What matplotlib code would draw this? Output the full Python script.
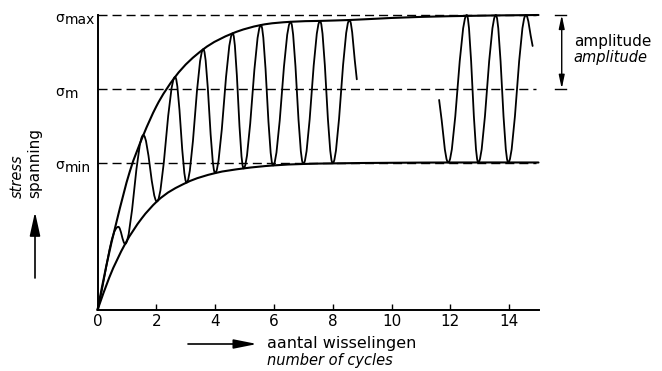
import numpy as np
import matplotlib
matplotlib.use("Agg")
import matplotlib.pyplot as plt
from matplotlib.path import Path
from matplotlib.patches import PathPatch

plt.rcParams["font.family"] = ["DejaVu Sans"]

# ---- values -------------------------------------------------------------
cycle_ticks = [0, 2, 4, 6, 8, 10, 12, 14]

sigma_min = 0.5
sigma_m = 0.75
sigma_max = 1.0

# upper envelope (peak stress build-up)
upper_x = [0.0, 0.30, 0.65, 1.10, 1.56, 2.00, 2.64, 3.60, 4.60, 5.56, 6.57, 7.57, 8.57, 10.0, 12.0, 15.0]
upper_y = [0.0, 0.150, 0.300, 0.470, 0.593, 0.690, 0.790, 0.884, 0.938, 0.966, 0.977, 0.980, 0.983, 0.990, 0.996, 1.000]

# lower envelope (minimum stress build-up)
lower_x = [0.0, 0.40, 0.94, 1.50, 2.02, 3.03, 4.00, 4.97, 5.97, 7.00, 8.00, 10.0, 12.0, 15.0]
lower_y = [0.0, 0.110, 0.224, 0.310, 0.368, 0.432, 0.464, 0.480, 0.490, 0.495, 0.497, 0.499, 0.500, 0.500]

# stress history, first part: start, alternating peaks / troughs, end
early_x = [0.0, 0.71, 0.94, 1.56, 2.02, 2.64, 3.03, 3.60, 4.00, 4.60, 4.97,
           5.56, 5.97, 6.57, 7.00, 7.57, 8.00, 8.57, 8.82]
early_y = [0.0, 0.282, 0.224, 0.593, 0.368, 0.790, 0.432, 0.884, 0.464, 0.938, 0.480,
           0.966, 0.490, 0.977, 0.495, 0.980, 0.497, 0.983, 0.782]

# stress history, steady state part
late_x = [11.62, 11.93, 12.56, 12.95, 13.55, 13.97, 14.57, 14.80]
late_y = [0.712, 0.500, 1.000, 0.500, 1.000, 0.500, 1.000, 0.895]

# ---- figure ---------------------------------------------------------------
W, H = 662, 371
fig = plt.figure(figsize=(W / 100, H / 100), dpi=100)
x0_px, y0_px, xunit_px, yunit_px = 97.5, 310.0, 29.4, 295.0
ax = fig.add_axes([x0_px / W, (H - y0_px) / H, 15 * xunit_px / W, yunit_px / H])
ax.set_xlim(0, 15)
ax.set_ylim(0, 1)
ax.patch.set_visible(False)

for side in ("top", "right"):
    ax.spines[side].set_visible(False)
ax.spines["left"].set_linewidth(1.4)
ax.spines["bottom"].set_linewidth(1.4)
ax.spines["left"].set_bounds(0, sigma_max)
ax.set_yticks([])
ax.set_xticks(cycle_ticks)
ax.set_xticklabels([str(t) for t in cycle_ticks])
ax.tick_params(axis="x", direction="in", length=4, width=1.0, pad=3, labelsize=11)


def smooth_path(xs, ys):
    """Cubic Hermite curve through the points (three-point slopes), as Bezier segments."""
    x = np.asarray(xs, float)
    y = np.asarray(ys, float)
    h = np.diff(x)
    d = np.diff(y) / h
    m = np.empty_like(x)
    m[0], m[-1] = d[0], d[-1]
    m[1:-1] = (h[:-1] * d[1:] + h[1:] * d[:-1]) / (h[:-1] + h[1:])
    verts = [(x[0], y[0])]
    codes = [Path.MOVETO]
    for i in range(len(x) - 1):
        t = h[i] / 3.0
        verts += [(x[i] + t, y[i] + m[i] * t),
                  (x[i + 1] - t, y[i + 1] - m[i + 1] * t),
                  (x[i + 1], y[i + 1])]
        codes += [Path.CURVE4] * 3
    return Path(verts, codes)


def wave_path(xs, ys, k=0.36, lead=0.4):
    """Half-waves between extrema (horizontal tangents), open ends follow the chord."""
    n = len(xs)
    verts = [(xs[0], ys[0])]
    codes = [Path.MOVETO]
    for i in range(n - 1):
        xa, ya, xb, yb = xs[i], ys[i], xs[i + 1], ys[i + 1]
        dx, dy = xb - xa, yb - ya
        c1 = (xa + lead * dx, ya + lead * dy) if i == 0 else (xa + k * dx, ya)
        c2 = (xb - lead * dx, yb - lead * dy) if i == n - 2 else (xb - k * dx, yb)
        verts += [c1, c2, (xb, yb)]
        codes += [Path.CURVE4] * 3
    return Path(verts, codes)


for path, lw in ((smooth_path(upper_x, upper_y), 1.5),
                 (smooth_path(lower_x, lower_y), 1.5),
                 (wave_path(early_x, early_y), 1.3),
                 (wave_path(late_x, late_y), 1.3)):
    ax.add_patch(PathPatch(path, fill=False, lw=lw, color="black",
                           capstyle="round", joinstyle="round", clip_on=False))

# reference stress levels
dash_end = 14.9
for level in (sigma_max, sigma_m, sigma_min):
    ax.plot([0, dash_end], [level, level], color="black", lw=1.0,
            dashes=(6.5, 3.6), clip_on=False)

# level labels
for level, sub in ((sigma_max, "max"), (sigma_m, "m"), (sigma_min, "min")):
    ax.text(-1.29, level - 0.010, "σ", fontsize=10, ha="center", va="center", clip_on=False)
    ax.text(-1.11, level - 0.018, sub, fontsize=10, ha="left", va="center", clip_on=False)

# amplitude dimension
xa = 15.79
ax.annotate("", xy=(xa, sigma_max), xytext=(xa, sigma_m), xycoords="data",
            arrowprops=dict(arrowstyle="<|-|>,head_length=0.8,head_width=0.17",
                            lw=1.0, color="black", shrinkA=0, shrinkB=0),
            annotation_clip=False)
for level in (sigma_max, sigma_m):
    ax.plot([15.55, 15.95], [level, level], color="black", lw=1.0, clip_on=False)
ax.text(16.2, 0.895, "amplitude", fontsize=11, ha="left", va="baseline", clip_on=False)
ax.text(16.2, 0.840, "amplitude", fontsize=10.5, style="italic", ha="left",
        va="baseline", clip_on=False)


def fpx(x, y):
    return x / W, (H - y) / H


# x axis caption with arrow
ax.annotate("", xy=fpx(257, 344), xytext=fpx(188, 344), xycoords="figure fraction",
            arrowprops=dict(arrowstyle="-|>,head_length=1.4,head_width=0.28",
                            lw=1.2, color="black", shrinkA=0, shrinkB=0))
fig.text(*fpx(267, 348), "aantal wisselingen", fontsize=11.5, ha="left", va="baseline")
fig.text(*fpx(267, 365), "number of cycles", fontsize=10.5, style="italic",
         ha="left", va="baseline")

# y axis caption with arrow
fig.text(*fpx(17.5, 198), "stress", fontsize=10.5, style="italic", rotation=90,
         ha="center", va="bottom")
fig.text(*fpx(34.5, 198), "spanning", fontsize=11, rotation=90, ha="center", va="bottom")
ax.annotate("", xy=fpx(35, 212), xytext=fpx(35, 278), xycoords="figure fraction",
            arrowprops=dict(arrowstyle="-|>,head_length=1.45,head_width=0.32",
                            lw=1.2, color="black", shrinkA=0, shrinkB=0))

fig.savefig("out.png", dpi=100)
